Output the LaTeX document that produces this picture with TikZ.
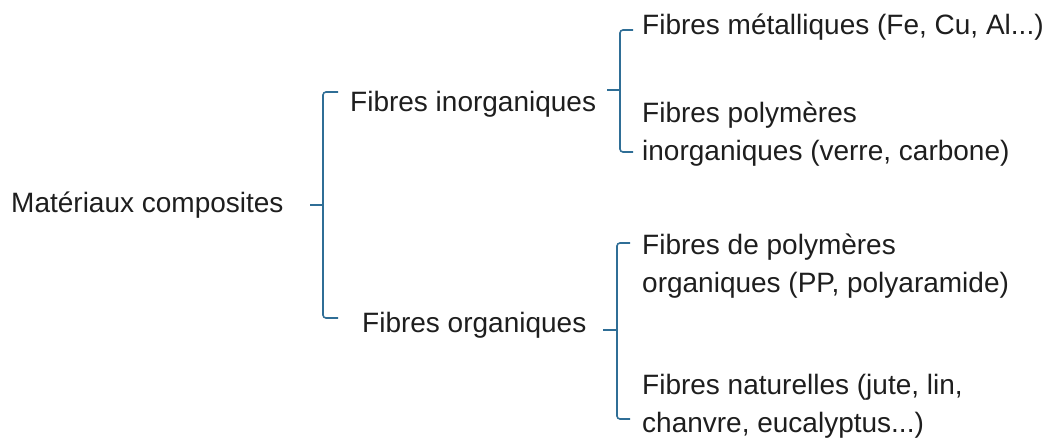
\documentclass[tikz,border=0pt]{standalone}
\usepackage{fontspec}
\setmainfont{Liberation Sans}
\definecolor{bracecol}{HTML}{2F6E96}
\definecolor{textcol}{HTML}{1E1E1E}
\tikzset{
  label/.style={anchor=base west, inner sep=0pt, align=left, text=textcol,
    font=\fontsize{28}{38}\selectfont},
  brace/.style={draw=bracecol, line width=1.6pt, rounded corners=3pt}
}
\begin{document}
\begin{tikzpicture}[x=1pt, y=-1pt]
        \useasboundingbox (0,0) rectangle (1049,438);

        % Text nodes (base = last line)
        \node[label] (root) at (11,213) {Matériaux composites};
        \node[label] (inorg) at (350,112) {Fibres inorganiques};
        \node[label] (org) at (362,332) {Fibres organiques};
        \node[label] (metal) at (642,35) {Fibres métalliques (Fe, Cu, Al...)};
        \node[label] (polyinorg) at (642,161) {Fibres polymères\\inorganiques (verre, carbone)};
        \node[label] (polyorg) at (642,292) {Fibres de polymères\\organiques (PP, polyaramide)};
        \node[label] (nat) at (642,432) {Fibres naturelles (jute, lin,\\chanvre, eucalyptus...)};

        % Brace points
        \coordinate (b1) at (323,205);
        \coordinate (b2) at (620,90);
        \coordinate (b3) at (617,330);

        % Draw the braces
        \draw[brace] (b1 |- 0,92) ++(15,0) -- (b1 |- 0,92) -- (b1 |- 0,318) -- ++(15,0);
        \draw[brace] (b1) ++(-13,0) -- (b1);
        \draw[brace] (b2 |- 0,30) ++(13,0) -- (b2 |- 0,30) -- (b2 |- 0,152) -- ++(13,0);
        \draw[brace] (b2) ++(-13,0) -- (b2);
        \draw[brace] (b3 |- 0,243) ++(13,0) -- (b3 |- 0,243) -- (b3 |- 0,419) -- ++(13,0);
        \draw[brace] (b3) ++(-14,0) -- (b3);
    \end{tikzpicture}
\end{document}
